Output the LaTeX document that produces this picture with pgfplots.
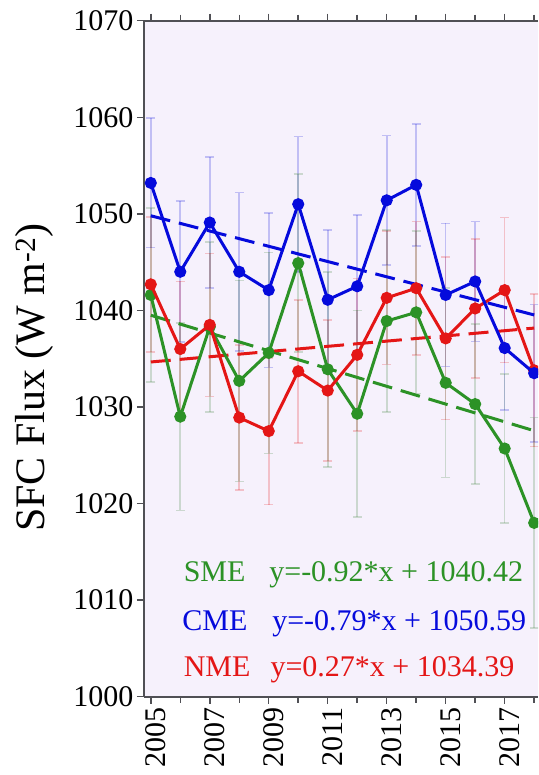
\documentclass[border=0pt]{standalone}
\usepackage{pgfplots}
\pgfplotsset{compat=1.18}
\usepackage{pgfplotstable}
\usepackage{fontspec}
\setmainfont{Liberation Serif}
\definecolor{bgcol}{RGB}{246,241,252}
\definecolor{cgreen}{RGB}{44,146,38}
\definecolor{cblue}{RGB}{5,10,220}
\definecolor{cred}{RGB}{228,22,22}
\definecolor{axgray}{RGB}{80,80,85}

\pgfplotstableread{
year val err
2005 1053.2 6.7
2006 1044.0 7.3
2007 1049.1 6.8
2008 1044.0 8.2
2009 1042.1 8.0
2010 1051.0 7.0
2011 1041.1 7.2
2012 1042.5 7.4
2013 1051.4 6.7
2014 1053.0 6.3
2015 1041.6 7.4
2016 1043.0 6.2
2017 1036.1 6.4
2018 1033.5 7.1
}\cme
\pgfplotstableread{
year val err
2005 1042.7 7.0
2006 1036.0 7.0
2007 1038.5 7.4
2008 1028.9 7.5
2009 1027.5 7.6
2010 1033.7 7.4
2011 1031.7 7.3
2012 1035.4 7.9
2013 1041.3 6.9
2014 1042.3 6.9
2015 1037.1 8.4
2016 1040.2 7.2
2017 1042.1 7.5
2018 1033.8 7.9
}\nme
\pgfplotstableread{
year val err
2005 1041.6 9.0
2006 1029.0 9.7
2007 1038.3 8.8
2008 1032.7 10.4
2009 1035.6 10.4
2010 1044.9 9.2
2011 1033.9 10.1
2012 1029.3 10.7
2013 1038.9 9.4
2014 1039.8 8.4
2015 1032.5 9.8
2016 1030.3 8.3
2017 1025.7 7.7
2018 1018.0 10.9
}\sme

\begin{document}
\begin{tikzpicture}
\path[use as bounding box] (-144pt,-78.3pt) rectangle (394pt,696.7pt);
\begin{axis}[
  scale only axis, width=394pt, height=676pt,
  xmin=2004.77, xmax=2018.13, ymin=1000, ymax=1070,
  axis x line=box, axis y line=left,
  axis line style={axgray, line width=1.8pt, -},
  axis background/.style={fill=bgcol},
  xtick={2005,2007,...,2017}, minor xtick={2006,2008,...,2018},
  ytick={1000,1010,...,1070},
  xticklabel pos=left,
  tick align=outside,
  major tick length=7pt, minor tick length=6pt,
  every tick/.style={axgray, line width=1.5pt},
  x tick label style={rotate=90, anchor=east, yshift=-5pt, font=\fontsize{30}{36}\selectfont},
  y tick label style={font=\fontsize{30}{36}\selectfont},
  /pgf/number format/assume math mode=true,
  xticklabel={\pgfmathprintnumber[1000 sep={}]{\tick}},
  yticklabel={\pgfmathprintnumber[1000 sep={}]{\tick}},
  ylabel={SFC Flux (W m\textsuperscript{-2})},
  every axis y label/.style={at={(axis description cs:-0.277,0.472)}, rotate=90, anchor=center, font=\fontsize{42}{48}\selectfont},
  clip marker paths=true,
]
% error bars
\addplot[draw=none, mark=none, error bars/.cd, y dir=both, y explicit, error bar style={cblue, opacity=0.22, line width=1.6pt}, error mark options={cblue, opacity=0.22, rotate=90, mark size=4.5pt, line width=1.6pt}]
  table[x=year, y=val, y error=err] {\cme};
\addplot[draw=none, mark=none, error bars/.cd, y dir=both, y explicit, error bar style={cred, opacity=0.22, line width=1.6pt}, error mark options={cred, opacity=0.22, rotate=90, mark size=4.5pt, line width=1.6pt}]
  table[x=year, y=val, y error=err] {\nme};
\addplot[draw=none, mark=none, error bars/.cd, y dir=both, y explicit, error bar style={cgreen!60!gray, opacity=0.25, line width=1.6pt}, error mark options={cgreen!60!gray, opacity=0.25, rotate=90, mark size=4.5pt, line width=1.6pt}]
  table[x=year, y=val, y error=err] {\sme};
% trend lines
\addplot[cgreen, line width=3pt, dash pattern=on 20pt off 9pt, mark=none] coordinates {(2005,1039.50) (2018,1027.54)};
\addplot[cred, line width=3pt, dash pattern=on 20pt off 9pt, mark=none] coordinates {(2005,1034.66) (2018,1038.17)};
\addplot[cblue, line width=3pt, dash pattern=on 20pt off 9pt, mark=none] coordinates {(2005,1049.80) (2018,1039.53)};
% data lines
\addplot[cgreen, line width=3pt, mark=*, mark size=4.5pt] table[x=year, y=val] {\sme};
\addplot[cred, line width=3pt, mark=*, mark size=4.5pt] table[x=year, y=val] {\nme};
\addplot[cblue, line width=3pt, mark=*, mark size=4.5pt] table[x=year, y=val] {\cme};
% equations
\node[cgreen, anchor=base west, font=\fontsize{30}{36}\selectfont] at (axis cs:2006.0,1011.9) {SME};
\node[cgreen, anchor=base west, font=\fontsize{30}{36}\selectfont] at (axis cs:2008.9,1011.9) {y=-0.92*x + 1040.42};
\node[cblue, anchor=base west, font=\fontsize{30}{36}\selectfont] at (axis cs:2005.95,1006.9) {CME};
\node[cblue, anchor=base west, font=\fontsize{30}{36}\selectfont] at (axis cs:2009.0,1006.9) {y=-0.79*x + 1050.59};
\node[cred, anchor=base west, font=\fontsize{30}{36}\selectfont] at (axis cs:2006.0,1002.1) {NME};
\node[cred, anchor=base west, font=\fontsize{30}{36}\selectfont] at (axis cs:2008.94,1002.1) {y=0.27*x + 1034.39};
\end{axis}
\end{tikzpicture}
\end{document}
